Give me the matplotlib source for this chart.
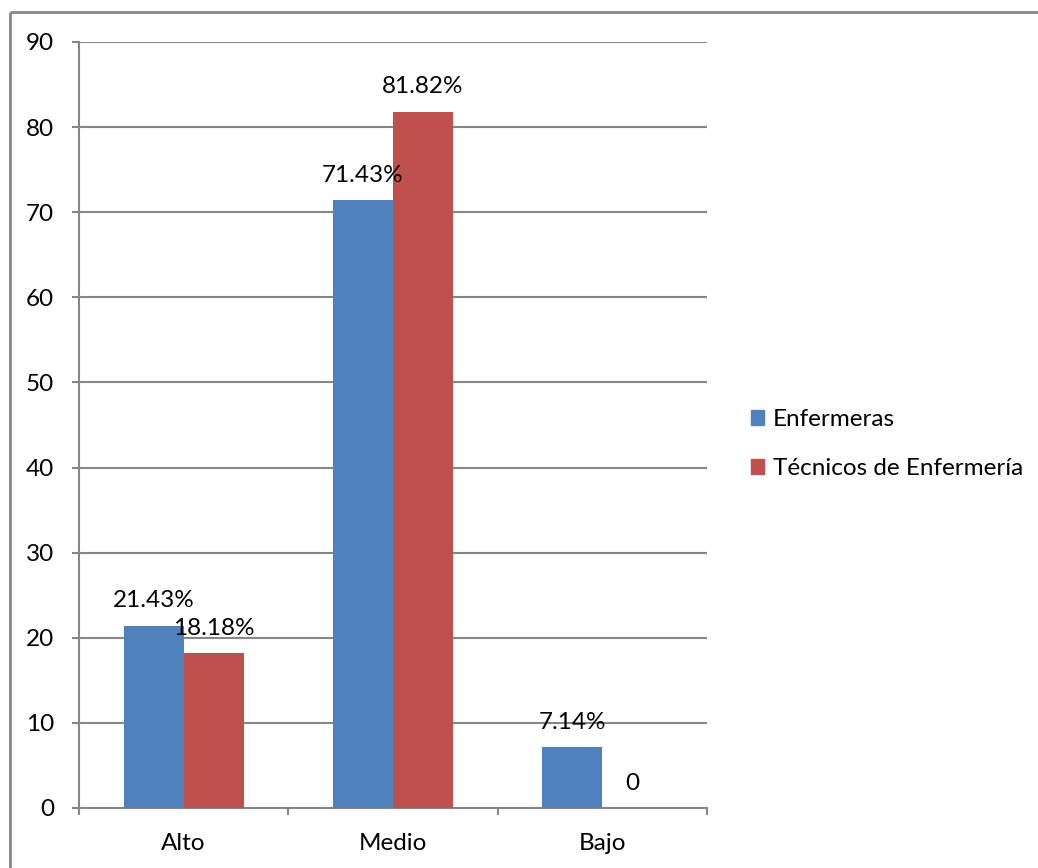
import matplotlib.pyplot as plt
import matplotlib
from matplotlib.lines import Line2D
from matplotlib.patches import Patch
import numpy as np

matplotlib.rcParams['font.family'] = ['Lato', 'DejaVu Sans']

categorias = ['Alto', 'Medio', 'Bajo']
enfermeras = [21.43, 71.43, 7.14]
tecnicos = [18.18, 81.82, 0]
series = ['Enfermeras', 'Técnicos de Enfermería']

azul = '#4F81BD'
rojo = '#C0504D'
gris = '#868686'
fs = 17.5

fig = plt.figure(figsize=(10.38, 8.68), dpi=100)
ax = fig.add_axes([79/1038, 1-808/868, (707-79)/1038, (808-42)/868])

x = np.arange(len(categorias))
w = 0.287
b1 = ax.bar(x - w/2, enfermeras, w, color=azul, zorder=3)
b2 = ax.bar(x + w/2, tecnicos, w, color=rojo, zorder=3)

# etiquetas sobre cada barra
def etiquetas(barras, valores):
    for bar, v in zip(barras, valores):
        txt = '0' if v == 0 else f'{v:.2f}%'
        ax.annotate(txt, (bar.get_x() + bar.get_width()/2, v),
                    xytext=(0, 18), textcoords='offset points',
                    ha='center', va='center', fontsize=fs, zorder=4)

etiquetas(b1, enfermeras)
etiquetas(b2, tecnicos)

ax.set_xlim(-0.5, 2.5)
ax.set_ylim(0, 90)
ax.set_yticks(np.arange(0, 91, 10))
ax.set_xticks(x)
ax.set_xticklabels(categorias)
ax.set_xticks([-0.5, 0.5, 1.5, 2.5], minor=True)

ax.yaxis.grid(True, color=gris, linewidth=1.5, zorder=0)
ax.set_axisbelow(True)
for s in ['top', 'right']:
    ax.spines[s].set_visible(False)
for s in ['left', 'bottom']:
    ax.spines[s].set_color(gris)
    ax.spines[s].set_linewidth(1.5)

ax.tick_params(axis='y', length=5, width=1.5, color=gris, pad=13, labelsize=fs)
ax.tick_params(axis='x', which='major', length=0, pad=18, labelsize=fs)
ax.tick_params(axis='x', which='minor', length=5, width=1.5, color=gris)

handles = [Patch(color=azul), Patch(color=rojo)]
fig.legend(handles, series, loc='center left',
           bbox_to_anchor=(729/1038, 1-444/868), frameon=False,
           fontsize=fs, handlelength=0.56, handleheight=0.56,
           handletextpad=0.35, labelspacing=1.15)

# marco exterior del grafico
fig.add_artist(Line2D([10/1038, 10/1038], [0, 1-12/868], color=gris,
                      linewidth=2, solid_capstyle='butt'))
fig.add_artist(Line2D([10/1038, 1.01], [1-12/868, 1-12/868], color=gris,
                      linewidth=2, solid_capstyle='butt'))

plt.savefig('out.png', dpi=100)
